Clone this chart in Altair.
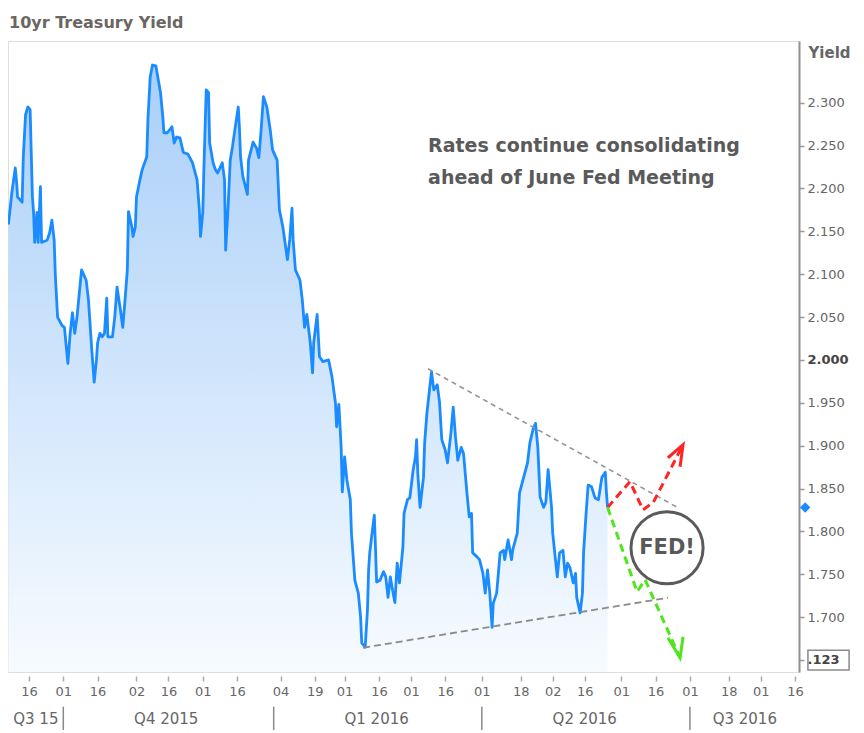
import altair as alt
import pandas as pd

BASE_DATE = "2015-09-16"   # day_offset counts days from this date

# ---- 10yr yield series (days since BASE_DATE, yield %) ----
day_offset = [
    -9, -7.5, -6, -5.5, -5, -3, -2.5, -1.5, -0.5, 0.5,
    1, 1.5, 2, 2.5, 3.5, 4, 5, 5.5, 8, 9,
    10, 11, 11.5, 12.5, 14.5, 15.5, 17, 18, 19, 20,
    21, 22, 23, 25, 26, 27.5, 28.5, 29.5, 30, 31,
    32, 33, 34, 34.5, 36.5, 37.5, 38.5, 40, 41, 42,
    43, 43.5, 45, 45.5, 46.5, 47, 48.5, 49.5, 51.5, 52,
    53, 54, 55.5, 56.5, 57.5, 58.5, 59, 60.5, 62.5, 63.5,
    64.5, 66, 67.5, 69.5, 71.5, 73.5, 74.5, 75, 76, 76.5,
    77.5, 78.5, 79, 80.5, 81.5, 82.5, 84.5, 85.5, 86, 87,
    88, 89, 90, 91.5, 92, 92.5, 93.5, 95.5, 96, 98,
    99.5, 100.5, 101.5, 102.5, 104, 105.5, 106.5, 108.5, 109.5, 111,
    113, 114, 115, 115.5, 116.5, 118.5, 119.5, 120.5, 121.5, 123,
    124, 124.5, 126, 127, 128.5, 131, 132.5, 134, 134.5, 135.5,
    136.5, 137, 138, 139, 140.5, 141, 142.5, 144, 145, 145.5,
    147, 148, 148.5, 149, 150, 151, 151.5, 152, 153.5, 155,
    156, 157, 158, 159, 160, 161, 162, 163.5, 164, 165.5,
    166.5, 168, 169, 169.5, 170, 171, 172.5, 173, 174, 175,
    176, 177, 178.5, 179.5, 180.5, 182, 183, 184.5, 185.5, 186.5,
    187.5, 189, 190, 191.5, 192.5, 193.5, 194, 196, 197, 198.5,
    199.5, 200.5, 201.5, 202.5, 203, 204.5, 206, 207.5, 208, 209.5,
    211, 211.5, 213.5, 214.5, 216, 218, 219, 220.5, 221.5, 222.5,
    223.5, 225, 226, 227, 228.5, 229, 231, 232, 233.5, 234.5,
    235.5, 236.5, 238, 239, 239.5, 241, 242, 242.5, 243.5, 244.5,
    246, 247.5, 249, 250.5, 252, 252.5, 253,
]
yields = [
    2.158, 2.195, 2.224, 2.210, 2.190, 2.184, 2.236, 2.286, 2.295, 2.292,
    2.240, 2.190, 2.172, 2.137, 2.172, 2.137, 2.202, 2.137, 2.140, 2.148,
    2.163, 2.140, 2.100, 2.050, 2.040, 2.038, 1.996, 2.031, 2.055, 2.031,
    2.050, 2.078, 2.105, 2.093, 2.070, 2.010, 1.974, 2.000, 2.020, 2.031,
    2.027, 2.031, 2.072, 2.027, 2.027, 2.050, 2.085, 2.058, 2.038, 2.070,
    2.105, 2.173, 2.155, 2.144, 2.155, 2.190, 2.210, 2.222, 2.237, 2.280,
    2.330, 2.344, 2.343, 2.327, 2.312, 2.284, 2.265, 2.265, 2.272, 2.253,
    2.260, 2.259, 2.242, 2.240, 2.230, 2.210, 2.175, 2.144, 2.172, 2.225,
    2.315, 2.312, 2.253, 2.230, 2.222, 2.218, 2.230, 2.210, 2.128, 2.175,
    2.233, 2.249, 2.268, 2.295, 2.272, 2.237, 2.214, 2.193, 2.233, 2.254,
    2.247, 2.236, 2.268, 2.307, 2.295, 2.268, 2.245, 2.233, 2.175, 2.155,
    2.117, 2.140, 2.177, 2.140, 2.105, 2.093, 2.070, 2.038, 2.053, 2.020,
    1.985, 2.020, 2.053, 2.004, 1.998, 2.000, 1.980, 1.950, 1.922, 1.948,
    1.898, 1.846, 1.887, 1.860, 1.837, 1.798, 1.743, 1.728, 1.700, 1.670,
    1.665, 1.708, 1.755, 1.775, 1.798, 1.819, 1.782, 1.741, 1.743, 1.753,
    1.747, 1.723, 1.747, 1.731, 1.717, 1.763, 1.740, 1.782, 1.821, 1.837,
    1.839, 1.872, 1.887, 1.907, 1.868, 1.828, 1.863, 1.903, 1.938, 1.962,
    1.986, 1.965, 1.971, 1.951, 1.907, 1.895, 1.880, 1.915, 1.945, 1.910,
    1.883, 1.898, 1.891, 1.845, 1.817, 1.821, 1.775, 1.770, 1.767, 1.751,
    1.728, 1.755, 1.728, 1.688, 1.716, 1.728, 1.775, 1.778, 1.767, 1.790,
    1.767, 1.778, 1.798, 1.845, 1.860, 1.880, 1.903, 1.920, 1.926, 1.898,
    1.840, 1.828, 1.834, 1.872, 1.828, 1.798, 1.747, 1.775, 1.778, 1.747,
    1.763, 1.758, 1.740, 1.751, 1.723, 1.705, 1.728, 1.775, 1.817, 1.854,
    1.852, 1.839, 1.837, 1.863, 1.869, 1.845, 1.828,
]

# ---- axes ----
x_tick_dates = ["2015-09-16", "2015-10-01", "2015-10-16", "2015-11-02", "2015-11-16",
                "2015-12-01", "2015-12-16", "2016-01-04", "2016-01-19", "2016-02-01",
                "2016-02-16", "2016-03-01", "2016-03-16", "2016-04-01", "2016-04-18",
                "2016-05-02", "2016-05-16", "2016-06-01", "2016-06-16", "2016-07-01",
                "2016-07-18", "2016-08-01", "2016-08-16"]
quarter_starts = ["2015-10-01", "2016-01-01", "2016-04-01", "2016-07-01"]
quarter_label_dates = ["2015-09-19", "2015-11-15", "2016-02-15", "2016-05-16", "2016-07-25"]
quarter_labels = ["Q3 15", "Q4 2015", "Q1 2016", "Q2 2016", "Q3 2016"]
y_ticks = [1.65, 1.70, 1.75, 1.80, 1.85, 1.90, 1.95, 2.00, 2.05, 2.10, 2.15, 2.20, 2.25, 2.30]
x_domain_offsets = [-9.18, 336.7]
y_domain = [1.636, 2.372]
# second-row (quarter) band below the date labels, in yield units
quarter_label_level = 1.5815
quarter_sep_levels = [1.5955, 1.5600]

# ---- annotations (days since BASE_DATE, yield) ----
upper_trend_offsets, upper_trend_yields = [174.5, 283.8], [1.9897, 1.8276]
lower_trend_offsets, lower_trend_yields = [146.1, 279.4], [1.6643, 1.7226]
up_path_offsets, up_path_yields = [253, 262.8, 268.5, 272.9, 286.0], [1.828, 1.8579, 1.8253, 1.8334, 1.9011]
up_head_offsets, up_head_yields = [279.4, 286.0, 284.7], [1.8859, 1.9011, 1.8754]
down_path_offsets, down_path_yields = [253, 265.9, 269.4, 284.7], [1.828, 1.7296, 1.7436, 1.6526]
down_head_offsets, down_head_yields = [279.4, 284.7, 286.0], [1.6759, 1.6526, 1.6771]
fed_offset, fed_yield = 279.0, 1.7809
note_offset = 174.5
note_yields = [2.2498, 2.2125]
note_lines = ["Rates continue consolidating", "ahead of June Fed Meeting"]
marker_offset = 339.4
box_offsets, box_yields = [340.6, 358.6], [1.6382, 1.6615]

LINE_BLUE = "#1a8cff"
GRAY_TXT = "#666666"
FONT = "DejaVu Sans"


def to_dates(offsets):
    return pd.Timestamp(BASE_DATE) + pd.to_timedelta(pd.Series(offsets, dtype=float), unit="D")


def dt(ts):
    ts = pd.Timestamp(ts)
    return alt.DateTime(year=int(ts.year), month=int(ts.month), date=int(ts.day),
                        hours=int(ts.hour), minutes=int(ts.minute))


dom = to_dates(x_domain_offsets)
xs = alt.Scale(domain=[dt(dom[0]), dt(dom[1])])
ysc = alt.Scale(domain=y_domain, zero=False, nice=False)

main = pd.DataFrame({"date": to_dates(day_offset), "yield": yields})

gradient = alt.Gradient(
    gradient="linear",
    stops=[alt.GradientStop(color="#a9cff8", offset=0),
           alt.GradientStop(color="#f7fbff", offset=1)],
    x1=1, x2=1, y1=0, y2=1,
)

bold_test = "datum.value == 2 || datum.value == 1.65"
y_axis = alt.Axis(
    orient="right", values=y_ticks, grid=False,
    labelExpr="datum.value == 1.65 ? '.123' : format(datum.value, '.3f')",
    labelFontWeight={"condition": {"test": bold_test, "value": "bold"}, "value": "normal"},
    labelColor={"condition": {"test": bold_test, "value": "#444444"}, "value": GRAY_TXT},
    labelFont=FONT, labelFontSize=13, labelPadding=3,
    tickSize=5, tickColor="#999999", tickWidth=1.5,
    domainColor="#909090", domainWidth=2,
    title="Yield", titleFont=FONT, titleAngle=0, titleAlign="left", titleBaseline="middle",
    titleX=9, titleY=11, titleFontSize=15, titleFontWeight="bold", titleColor=GRAY_TXT,
)

x_axis = alt.Axis(
    orient="bottom",
    values=[dt(d) for d in x_tick_dates], format="%d", grid=False, domain=False,
    offset=4, tickSize=5, tickColor="#aaaaaa", tickWidth=1.5, labelPadding=4,
    labelFont=FONT, labelFontSize=13, labelColor=GRAY_TXT,
    labelOverlap=False, labelFlush=False, title=None,
)


# every layer carries the same axis definitions so the shared axes merge cleanly
def X(f="date"):
    return alt.X(f"{f}:T", scale=xs, axis=x_axis)


def Y(f="yield"):
    return alt.Y(f"{f}:Q", scale=ysc, axis=y_axis)


area = alt.Chart(main).mark_area(color=gradient, line=False).encode(
    x=X(), y=Y(), y2=alt.datum(y_domain[0]),
)
line = alt.Chart(main).mark_line(color=LINE_BLUE, strokeWidth=2.8, strokeJoin="round").encode(
    x=X(), y=Y(),
)


def path_layer(offsets, vals, color, width, dash=None):
    d = pd.DataFrame({"date": to_dates(offsets), "yield": vals, "i": list(range(len(vals)))})
    kw = dict(color=color, strokeWidth=width)
    if dash:
        kw["strokeDash"] = dash
    return alt.Chart(d).mark_line(**kw).encode(x=X(), y=Y(), order=alt.Order("i:Q"))


upper = path_layer(upper_trend_offsets, upper_trend_yields, "#959595", 1.6, [5, 4])
lower = path_layer(lower_trend_offsets, lower_trend_yields, "#8a8a8a", 1.8, [7, 4])
red_path = path_layer(up_path_offsets, up_path_yields, "#ff2424", 3, [8, 5])
red_head = path_layer(up_head_offsets, up_head_yields, "#ff2424", 3)
green_path = path_layer(down_path_offsets, down_path_yields, "#4ee61a", 3, [8, 5])
green_head = path_layer(down_head_offsets, down_head_yields, "#4ee61a", 3)

fed_df = pd.DataFrame({"date": to_dates([fed_offset]), "yield": [fed_yield], "t": ["FED!"]})
fed_circle = alt.Chart(fed_df).mark_point(
    shape="circle", size=5200, fill="white", stroke="#5a5a5a", strokeWidth=3,
    opacity=1, fillOpacity=1,
).encode(x=X(), y=Y())
fed_text = alt.Chart(fed_df).mark_text(
    font=FONT, fontSize=21, fontWeight="bold", color="#595959",
    align="center", baseline="middle",
).encode(x=X(), y=Y(), text="t:N")

note_df = pd.DataFrame({"date": to_dates([note_offset] * len(note_lines)),
                        "yield": note_yields, "t": note_lines})
note = alt.Chart(note_df).mark_text(
    font=FONT, fontSize=19, fontWeight="bold", color="#5a5a5a",
    align="left", baseline="middle",
).encode(x=X(), y=Y(), text="t:N")

marker_df = pd.DataFrame({"date": to_dates([marker_offset]), "yield": [yields[-1]]})
marker = alt.Chart(marker_df).mark_point(
    shape="diamond", filled=True, color=LINE_BLUE, size=110, opacity=1,
).encode(x=X(), y=Y())

box_df = pd.DataFrame({"date": to_dates([box_offsets[0]]), "d2": to_dates([box_offsets[1]]),
                       "yield": [box_yields[0]], "y2": [box_yields[1]]})
box = alt.Chart(box_df).mark_rect(fillOpacity=0, stroke="#8a8a8a", strokeWidth=1.5).encode(
    x=X(), x2="d2:T", y=Y(), y2="y2:Q",
)

# quarter row: labels and separators
q_df = pd.DataFrame({"date": pd.to_datetime(quarter_label_dates), "lab": quarter_labels,
                     "yield": [quarter_label_level] * len(quarter_labels)})
q_text = alt.Chart(q_df).mark_text(
    font=FONT, fontSize=15, color=GRAY_TXT, align="center", baseline="middle",
).encode(x=X(), y=Y(), text="lab:N")
s_df = pd.DataFrame({"date": pd.to_datetime(quarter_starts),
                     "yield": [quarter_sep_levels[0]] * len(quarter_starts),
                     "y2": [quarter_sep_levels[1]] * len(quarter_starts)})
s_rules = alt.Chart(s_df).mark_rule(color="#8a8a8a", strokeWidth=1.5).encode(
    x=X(), y=Y(), y2="y2:Q",
)

chart = alt.layer(
    area, line, upper, lower, red_path, red_head, green_path, green_head,
    fed_circle, fed_text, note, marker, box, q_text, s_rules,
).properties(
    width=791, height=631,
    autosize=alt.AutoSizeParams(type="none"),
    padding={"left": 0, "top": 33, "right": 57, "bottom": 58},
    title=alt.TitleParams("10yr Treasury Yield", anchor="start", fontSize=16, fontWeight="bold",
                          color="#6a6663", font=FONT, offset=10, dx=2),
).configure_view(stroke="#909090", strokeWidth=2).configure_axis(
    labelFont=FONT, titleFont=FONT,
).configure(background="white")

chart.save("out.html", embed_options={"renderer": "svg", "actions": False})
